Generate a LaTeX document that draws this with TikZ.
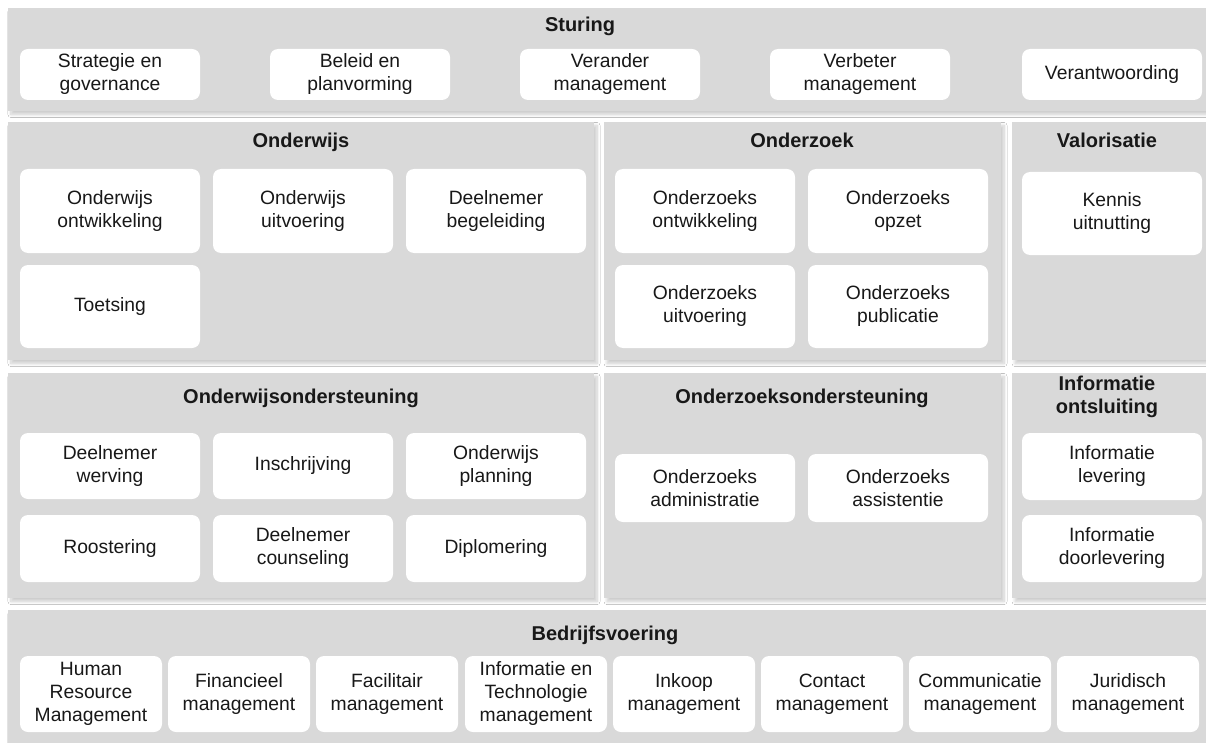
\documentclass[tikz,border=0pt]{standalone}
\usepackage{fontspec}
\setmainfont{Liberation Sans}
\usetikzlibrary{shadows.blur}
\definecolor{panelgray}{HTML}{D9D9D9}
\definecolor{inktext}{HTML}{181818}
\tikzset{
  panelst/.style={fill=panelgray, draw=none, inner sep=0pt, outer sep=0pt,
    anchor=north west,
    blur shadow={shadow xshift=3pt, shadow yshift=-3.5pt, shadow blur radius=3pt,
      shadow blur steps=8, shadow opacity=20}},
  blkst/.style={fill=white, draw=none, rounded corners=8pt, inner sep=0pt, outer sep=0pt,
    anchor=north west, align=center, text=inktext,
    font=\fontsize{19.3}{23}\selectfont},
  titlest/.style={font=\fontsize{20}{23}\selectfont\bfseries, text=inktext, align=center, inner sep=0pt}
}
% block: name, left, top, width, height, text
\newcommand{\blk}[6]{\node[blkst, minimum width=#4pt, minimum height=#5pt] (#1) at (#2,#3) {#6};}
% panel: name, left, top, right, bottom
\newcommand{\pnl}[5]{\node[panelst, minimum width=\fpeval{#4-#2}pt, minimum height=\fpeval{#5-#3}pt] (#1) at (#2,#3) {};}
\begin{document}
\begin{tikzpicture}[x=1pt, y=-1pt]
\fill[white] (0,0) rectangle (1206,743);
\useasboundingbox (0,0) rectangle (1206,743);

% ---- Sturing ----
\pnl{pStu}{8}{8}{1206}{111}
\node[titlest, anchor=base] (tStu) at (580,32) {Sturing};
\blk{s1}{20}{49}{180}{51}{Strategie en\\governance}
\blk{s2}{270}{49}{180}{51}{Beleid en\\planvorming}
\blk{s3}{520}{49}{180}{51}{Verander\\management}
\blk{s4}{770}{49}{180}{51}{Verbeter\\management}
\blk{s5}{1022}{49}{180}{51}{Verantwoording}

% ---- Onderwijs ----
\pnl{pOw}{8}{122}{594}{360}
\node[titlest, anchor=base] (tOw) at (301,148) {Onderwijs};
\blk{ow1}{20}{169}{180}{84}{Onderwijs\\ontwikkeling}
\blk{ow2}{213}{169}{180}{84}{Onderwijs\\uitvoering}
\blk{ow3}{406}{169}{180}{84}{Deelnemer\\begeleiding}
\blk{ow4}{20}{265}{180}{83}{Toetsing}

% ---- Onderzoek ----
\pnl{pOz}{604}{122}{1001}{360}
\node[titlest, anchor=base] (tOz) at (802,148) {Onderzoek};
\blk{oz1}{615}{169}{180}{84}{Onderzoeks\\ontwikkeling}
\blk{oz2}{808}{169}{180}{84}{Onderzoeks\\opzet}
\blk{oz3}{615}{265}{180}{83}{Onderzoeks\\uitvoering}
\blk{oz4}{808}{265}{180}{83}{Onderzoeks\\publicatie}

% ---- Valorisatie ----
\pnl{pVa}{1012}{122}{1206}{360}
\node[titlest, anchor=base] (tVa) at (1107,148) {Valorisatie};
\blk{va1}{1022}{172}{180}{83}{Kennis\\uitnutting}

% ---- Onderwijsondersteuning ----
\pnl{pOwo}{8}{373}{594}{598}
\node[titlest, anchor=base] (tOwo) at (301,403) {Onderwijsondersteuning};
\blk{wo1}{20}{433}{180}{66}{Deelnemer\\werving}
\blk{wo2}{213}{433}{180}{66}{Inschrijving}
\blk{wo3}{406}{433}{180}{66}{Onderwijs\\planning}
\blk{wo4}{20}{515}{180}{67}{Roostering}
\blk{wo5}{213}{515}{180}{67}{Deelnemer\\counseling}
\blk{wo6}{406}{515}{180}{67}{Diplomering}

% ---- Onderzoeksondersteuning ----
\pnl{pOzo}{604}{373}{1001}{598}
\node[titlest, anchor=base] (tOzo) at (802,403) {Onderzoeksondersteuning};
\blk{zo1}{615}{454}{180}{68}{Onderzoeks\\administratie}
\blk{zo2}{808}{454}{180}{68}{Onderzoeks\\assistentie}

% ---- Informatie ontsluiting ----
\pnl{pIo}{1012}{373}{1206}{598}
\node[titlest] (tIo) at (1107,397) {Informatie\\ontsluiting};
\blk{io1}{1022}{433}{180}{67}{Informatie\\levering}
\blk{io2}{1022}{515}{180}{67}{Informatie\\doorlevering}

% ---- Bedrijfsvoering ----
\pnl{pBv}{8}{610}{1206}{760}
\node[titlest, anchor=base] (tBv) at (605,640) {Bedrijfsvoering};
\blk{bv1}{20}{656}{142}{76}{Human\\Resource\\Management}
\blk{bv2}{168}{656}{142}{76}{Financieel\\management}
\blk{bv3}{316}{656}{142}{76}{Facilitair\\management}
\blk{bv4}{465}{656}{142}{76}{Informatie en\\Technologie\\management}
\blk{bv5}{613}{656}{142}{76}{Inkoop\\management}
\blk{bv6}{761}{656}{142}{76}{Contact\\management}
\blk{bv7}{909}{656}{142}{76}{Communicatie\\management}
\blk{bv8}{1057}{656}{142}{76}{Juridisch\\management}
\end{tikzpicture}
\end{document}
